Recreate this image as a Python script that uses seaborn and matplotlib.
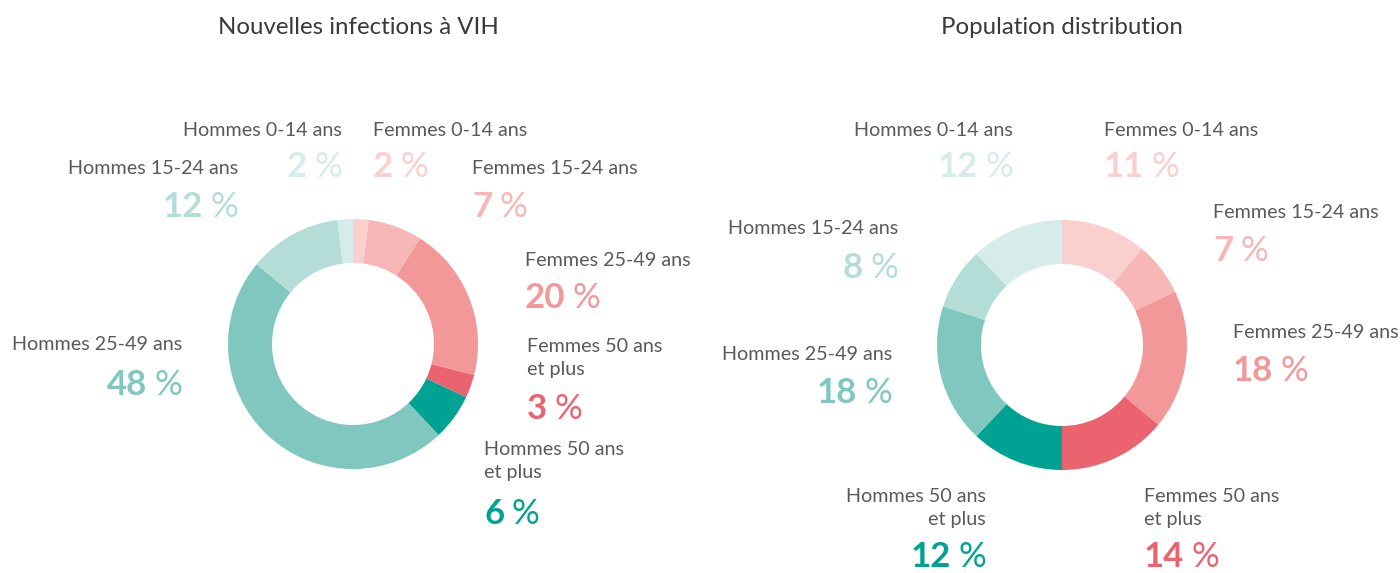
import matplotlib
matplotlib.use("Agg")
import matplotlib.pyplot as plt
import seaborn as sns

# data
groups = ["Femmes 0-14 ans", "Femmes 15-24 ans", "Femmes 25-49 ans", "Femmes 50 ans\net plus",
          "Hommes 50 ans\net plus", "Hommes 25-49 ans", "Hommes 15-24 ans", "Hommes 0-14 ans"]
infections = [2, 7, 20, 3, 6, 48, 12, 2]
population = [11, 7, 18, 14, 12, 18, 8, 12]
titles = ["Nouvelles infections à VIH", "Population distribution"]
colors = ["#f9d0cd", "#f6b7b6", "#f29899", "#ec6370",
          "#00a393", "#80c7c0", "#b4ddd8", "#d6ecea"]

W, H = 1400, 573

# layout (pixels from top-left): x, label y, percent y, alignment
layout_left = [(373, 130, 167, "left"), (472, 168, 207, "left"), (525, 260, 298, "left"),
               (527, 358, 409, "left"), (484, 461, 514, "left"), (182, 345, 385, "right"),
               (238, 168, 207, "right"), (342, 130, 167, "right")]
layout_right = [(1104, 130, 167, "left"), (1213, 212, 251, "left"), (1233, 332, 371, "left"),
                (1144, 508, 557, "left"), (986, 508, 557, "right"), (892, 354, 393, "right"),
                (898, 229, 268, "right"), (1013, 130, 167, "right")]

sns.set_theme(style="white")
plt.rcParams["font.family"] = ["Lato", "DejaVu Sans"]

fig = plt.figure(figsize=(W / 100, H / 100), dpi=100)
ax = fig.add_axes([0, 0, 1, 1])
ax.set_xlim(0, W)
ax.set_ylim(0, H)
ax.axis("off")
renderer = fig.canvas.get_renderer()

charts = [(infections, (353, 344), 358, layout_left), (population, (1062, 345), 1062, layout_right)]

for (values, (cx, cy), tx, layout), title in zip(charts, titles):
    ax.pie(values, colors=colors, startangle=90, counterclock=False, center=(cx, H - cy),
           radius=125, wedgeprops=dict(width=44, linewidth=0), frame=True)
    ax.text(tx, H - 27, title, ha="center", va="center", fontsize=17.3, color="#3a3a3a")

    for g, v, col, (x, ly, py, ha) in zip(groups, values, colors, layout):
        ax.text(x, H - ly, g, ha=ha, va="center", multialignment=ha, fontsize=14.2,
                color="#5a5a5a", linespacing=1.45)
        gap = 7
        if ha == "left":
            t = ax.text(x, H - py, str(v), ha="left", va="center", fontsize=25,
                        fontweight="bold", color=col)
            bb = t.get_window_extent(renderer)
            ax.text(bb.x1 + gap, H - py, "%", ha="left", va="center", fontsize=25,
                    color=col)
        else:
            t = ax.text(x, H - py, "%", ha="right", va="center", fontsize=25,
                        color=col)
            bb = t.get_window_extent(renderer)
            ax.text(bb.x0 - gap, H - py, str(v), ha="right", va="center", fontsize=25,
                    fontweight="bold", color=col)

ax.set_xlim(0, W)
ax.set_ylim(0, H)
ax.set_aspect("auto")
fig.savefig("out.png", dpi=100, facecolor="white")
